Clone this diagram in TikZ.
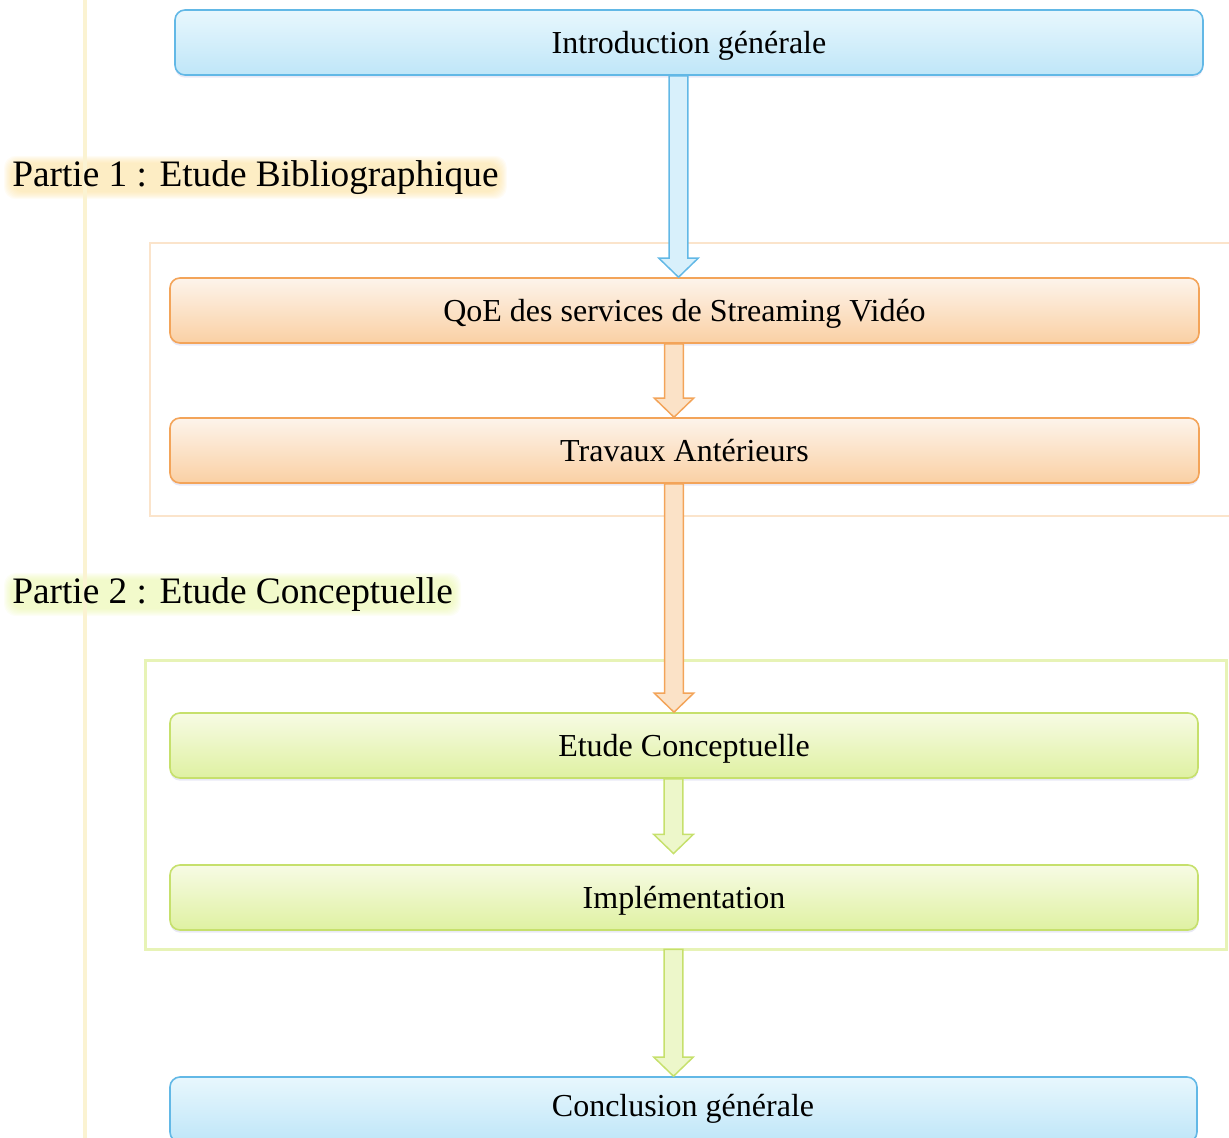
\documentclass[tikz,border=0pt]{standalone}
\usepackage{fontspec}
\setmainfont{Liberation Serif}
\usetikzlibrary{calc,shadows,backgrounds}

\definecolor{blueedge}{HTML}{62B8E6}
\definecolor{bluetop}{HTML}{E8F7FD}
\definecolor{bluebot}{HTML}{BFE6F8}
\definecolor{orangeedge}{HTML}{F3A459}
\definecolor{orangetop}{HTML}{FDF4EB}
\definecolor{orangebot}{HTML}{FAD0A4}
\definecolor{greenedge}{HTML}{C6E06C}
\definecolor{greentop}{HTML}{F7FBE4}
\definecolor{greenbot}{HTML}{DFF1A2}
\definecolor{orangeframe}{HTML}{FBE4CB}
\definecolor{greenframe}{HTML}{E7F3B6}
\definecolor{glowone}{HTML}{FCDC8C}
\definecolor{glowtwo}{HTML}{E6F59A}
\definecolor{marginline}{HTML}{FBF3D2}

\tikzset{
  stepbox/.style={rounded corners=7.5pt, line width=1.2pt, inner sep=0pt,
    minimum height=48.75pt, font=\fontsize{24}{28}\selectfont,
    text height=21.5pt, text depth=5.3pt,
    drop shadow={shadow xshift=0pt, shadow yshift=-2pt, opacity=0.12, fill=blue!40!gray}},
  bluebox/.style={stepbox, draw=blueedge, top color=bluetop, bottom color=bluebot},
  orangebox/.style={stepbox, draw=orangeedge, top color=orangetop, bottom color=orangebot},
  greenbox/.style={stepbox, draw=greenedge, top color=greentop, bottom color=greenbot},
  partframe/.style={line width=2.2pt},
  partlabel/.style={font=\fontsize{28}{32}\selectfont, anchor=west, inner sep=0pt},
  bluearrow/.style={draw=blueedge, fill=bluetop!60!bluebot, line width=1.1pt, line join=miter},
  orangearrow/.style={draw=orangeedge, fill=orangetop!50!orangebot, line width=1.1pt, line join=miter},
  greenarrow/.style={draw=greenedge, fill=greentop!60!greenbot, line width=1.1pt, line join=miter},
}

% hollow block arrow along a vertical axis #2, from the bottom of #3 to the
% top of #4, stopping #1 short of the target
\newcommand\flowarrow[5][0pt]{%
  \path[#5] let \p1=(#2 |- #3.south), \p2=(#2 |- #4.north) in
    (\x1-7.1pt,\y1) -- (\x1-7.1pt,\y2+#1+14.3pt) -- (\x1-14.8pt,\y2+#1+14.3pt) --
    (\x1,\y2+#1) -- (\x1+14.8pt,\y2+#1+14.3pt) -- (\x1+7.1pt,\y2+#1+14.3pt) --
    (\x1+7.1pt,\y1) -- cycle;}

% soft halo behind a part title
\newcommand\halo[2]{%
  \begin{scope}[on background layer]
    \foreach \k in {1,...,8}{
      \fill[#2, opacity=0.085, rounded corners=9pt]
        ($(#1.south west)+(-\k,{\k-4})$) rectangle ($(#1.north east)+(\k,{-\k+3})$);
    }
  \end{scope}}

\begin{document}
\begin{tikzpicture}[x=0.75pt,y=-0.75pt]
  \useasboundingbox (0,0) rectangle (1229,1138);
  \clip (0,0) rectangle (1229,1138);

  % faint margin rule
  \draw[marginline, line width=3pt] (85,0) -- (85,1138);

  % part frames
  \draw[partframe, draw=orangeframe] (150,243) rectangle (1236,516);
  \node[inner sep=0pt, minimum width=810.75pt, minimum height=216pt] (frametwo) at (686,805) {};
  \draw[partframe, draw=greenframe] (frametwo.north west) rectangle (frametwo.south east);

  % steps
  \node[bluebox, minimum width=771pt] (intro) at (689,42.5) {Introduction générale};
  \node[orangebox, minimum width=771.75pt] (qoe) at (684.5,310.5) {QoE des services de Streaming Vidéo};
  \node[orangebox, minimum width=771.75pt] (travaux) at (684.5,450.5) {Travaux Antérieurs};
  \node[greenbox, minimum width=771pt] (etude) at (684,745.5) {Etude Conceptuelle};
  \node[greenbox, minimum width=771pt] (impl) at (684,897.5) {Implémentation};
  \node[bluebox, minimum width=770.25pt, text height=3pt, text depth=0pt] (concl) at (683.5,1109.5) {};
  \node[font=\fontsize{24}{28}\selectfont, inner sep=0pt] (conclt) at (683,1109) {Conclusion générale};

  % part titles
  \node[partlabel] (partone) at (12,178) {Partie 1 : Etude Bibliographique};
  \node[partlabel] (parttwo) at (12,595) {Partie 2 : Etude Conceptuelle};
  \halo{partone}{glowone}
  \halo{parttwo}{glowtwo}

  % arrow axes
  \coordinate (axb) at (678.5,0);
  \coordinate (axo) at (674,0);
  \coordinate (axg) at (673.5,0);

  \flowarrow{axb}{intro}{qoe}{bluearrow}
  \flowarrow{axo}{qoe}{travaux}{orangearrow}
  \flowarrow{axo}{travaux}{etude}{orangearrow}
  \flowarrow[8pt]{axg}{etude}{impl}{greenarrow}
  \flowarrow{axg}{frametwo}{concl}{greenarrow}
\end{tikzpicture}
\end{document}
